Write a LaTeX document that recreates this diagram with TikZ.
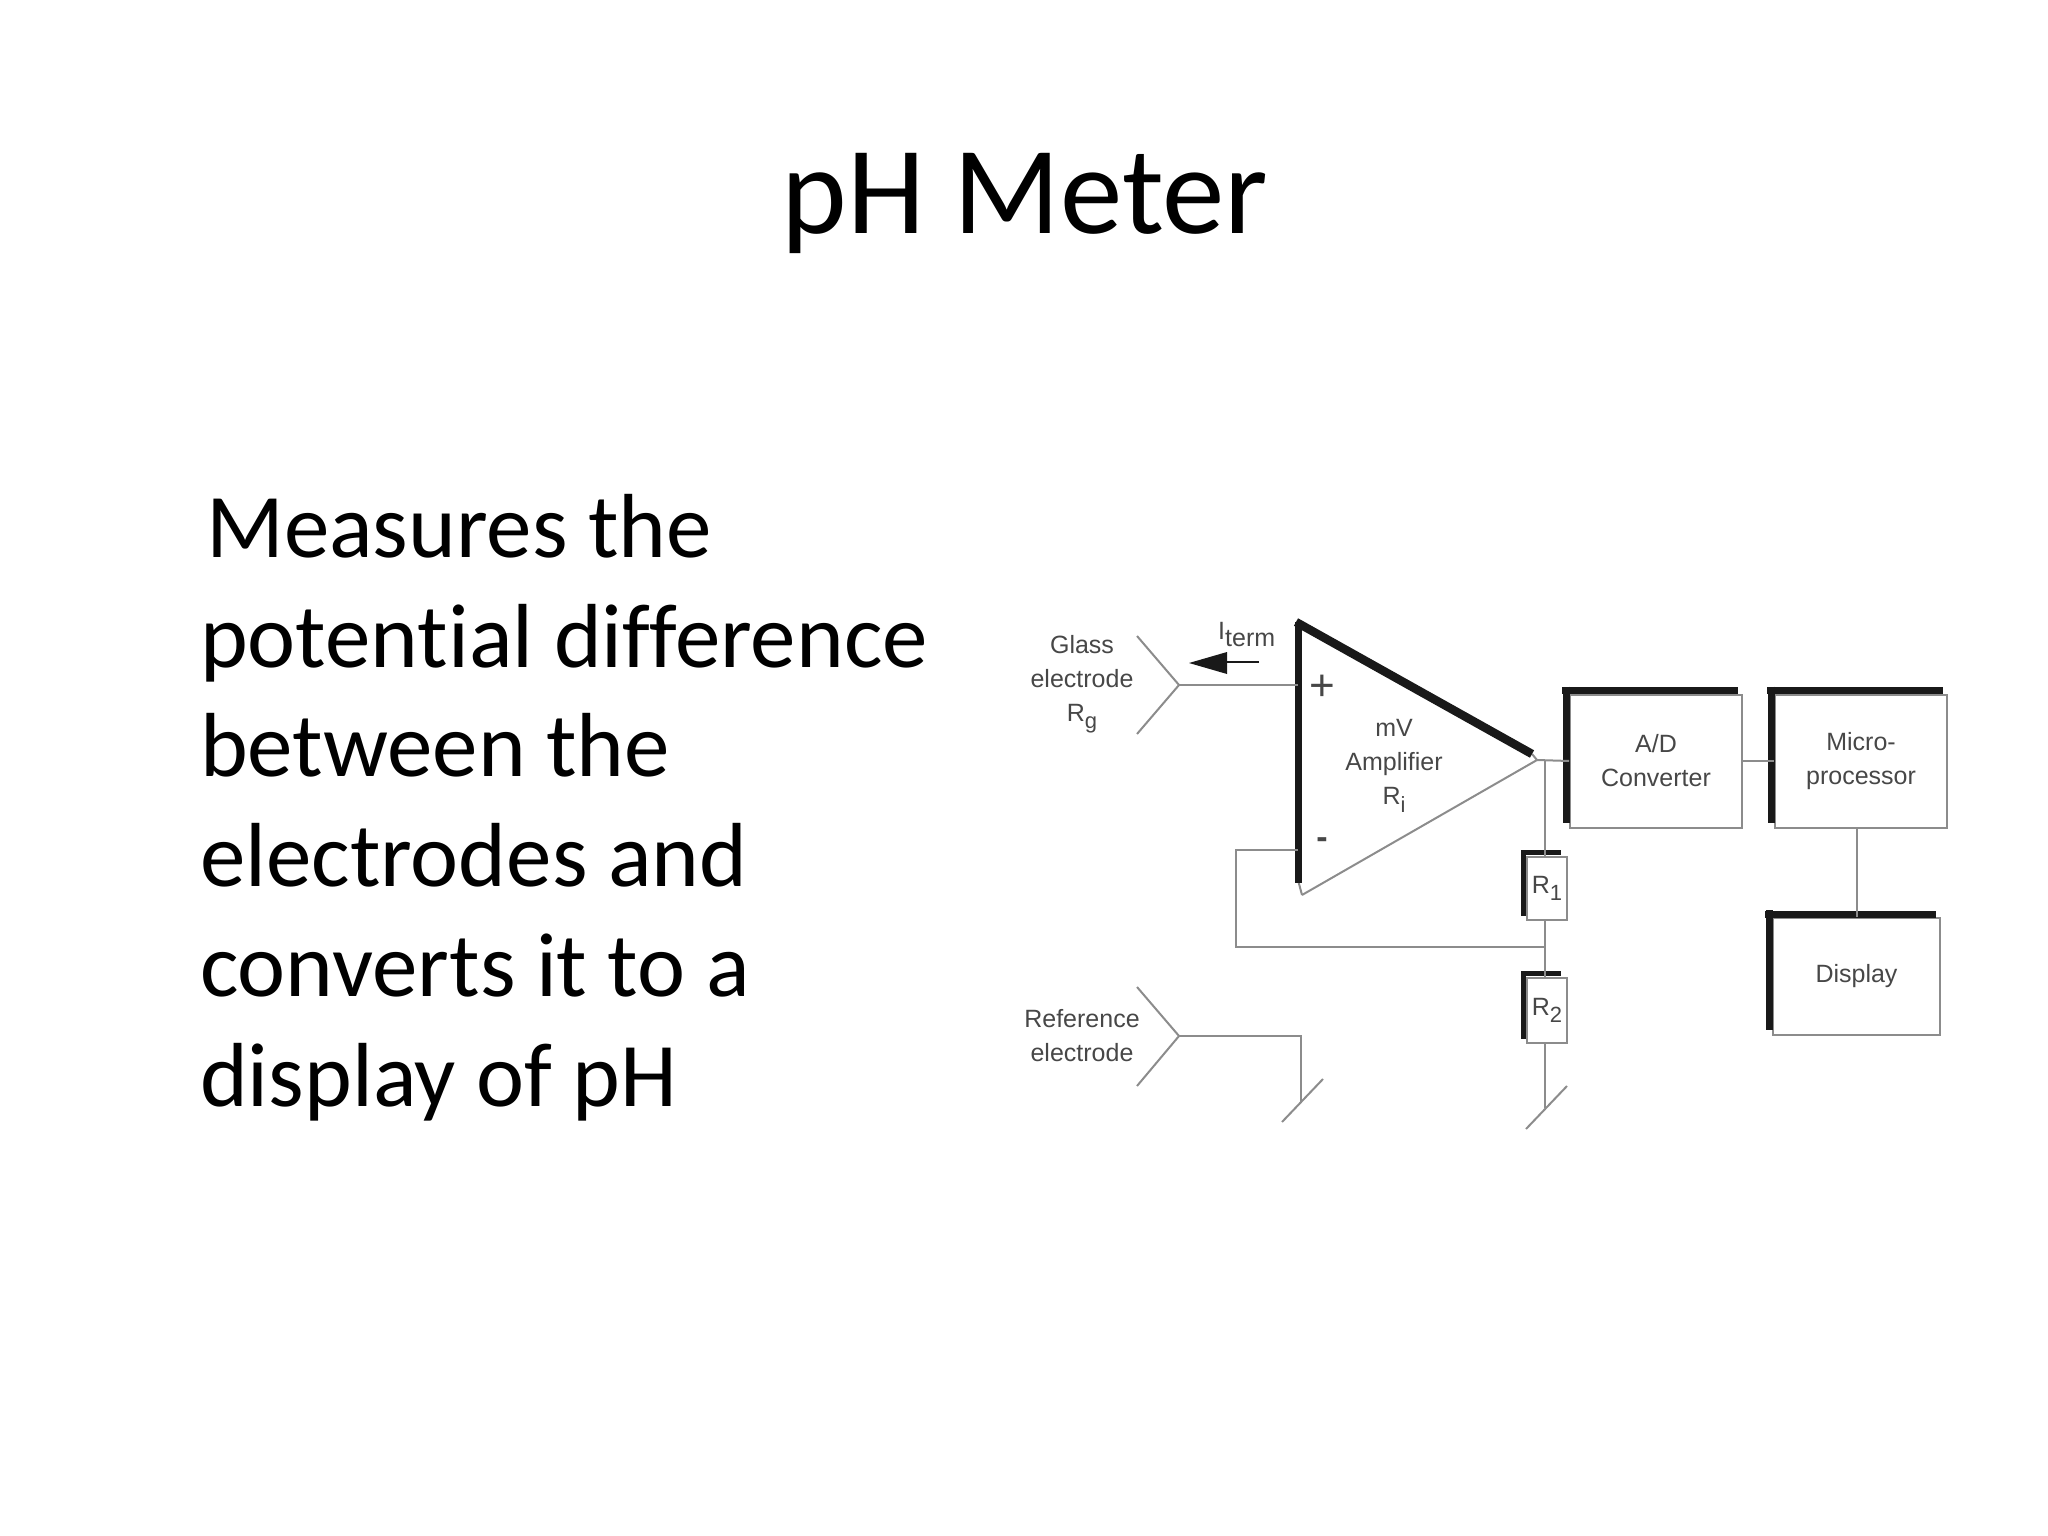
\documentclass[tikz,border=0pt]{standalone}
\usepackage{fontspec}
\setmainfont[Ligatures=NoCommon]{Carlito}
\newfontfamily\diagfont{Liberation Sans}
\usetikzlibrary{calc}
\definecolor{wirecol}{gray}{0.55}
\definecolor{heavycol}{gray}{0.1}
\definecolor{labelcol}{gray}{0.28}
\newcommand{\lowsub}[1]{\raisebox{-0.3em}{\fontsize{22}{22}\selectfont #1}}
\tikzset{
  wire/.style={draw=wirecol,line width=2pt},
  heavy/.style={draw=heavycol,line width=7pt},
  heavysmall/.style={draw=heavycol,line width=5pt},
  lbl/.style={text=labelcol,font=\diagfont\fontsize{25}{34}\selectfont,align=center,inner sep=0pt},
  blockbox/.style={wire,lbl,minimum width=#1,anchor=center},
  resbox/.style={wire,lbl,minimum width=40pt,anchor=center},
}
\begin{document}
\begin{tikzpicture}[x=1pt,y=-1pt]
\useasboundingbox (0,0) rectangle (2048,1536);
% title and body
\node[font=\fontsize{125}{125}\selectfont,anchor=base,inner sep=0pt,text=black] (title) at (1025,233) {pH Meter};
\node[font=\fontsize{91}{109.8}\selectfont,anchor=north west,align=left,inner sep=0pt,text=black] (body) at (200,494)
 {\hspace{6pt}Measures the\\potential difference\\between the\\electrodes and\\converts it to a\\display of pH};
% amplifier
\coordinate (tl) at (1298,622);
\coordinate (tip) at (1537,760);
\coordinate (bl) at (1302,895);
\coordinate (plusin) at (1298,685);
\coordinate (minusin) at (1298,850);
\draw[wire] (bl) -- (tip) -- (1532,754);
\draw[wire] (1298,880) -- (bl);
\draw[heavycol,line width=7pt] (tl) -- (1298,883);
\draw[heavycol,line width=8.5pt] (1296,622) -- (1532,754);
\node[font=\diagfont\fontsize{44}{44}\selectfont,text=labelcol,inner sep=0pt] (plus) at (1322,688) {+};
\node[font=\diagfont\bfseries\fontsize{34}{34}\selectfont,text=labelcol,inner sep=0pt] (minus) at (1322,843) {-};
\node[lbl] (amp) at (1394,766) {mV\\Amplifier\\R\lowsub{i}};
% electrodes
\coordinate (ga) at (1137,636);
\coordinate (gv) at (1179,685);
\coordinate (gb) at (1137,734);
\draw[wire] (ga) -- (gv) -- (gb);
\draw[wire] (gv) -- (plusin);
\node[lbl] (glass) at (1082,684) {Glass\\electrode\\R\lowsub{g}};
\coordinate (ra) at (1137,987);
\coordinate (rv) at (1179,1036);
\coordinate (rb) at (1137,1086);
\draw[wire] (ra) -- (rv) -- (rb);
\node[lbl] (ref) at (1082,1036) {Reference\\electrode};
\coordinate (g1) at (1301,1102);
\coordinate (g1a) at (1323,1079);
\coordinate (g1b) at (1282,1122);
\draw[wire] (rv) -| (g1);
\draw[wire] (g1a) -- (g1b);
% current arrow
\coordinate (iend) at (1259,662);
\coordinate (ibase) at (1225,662);
\coordinate (itip) at (1189,663);
\draw[draw=heavycol,line width=1.5pt] (iend) -- (ibase);
\fill[heavycol] (itip) -- (1227,652) -- (1227,674) -- cycle;
\node[text=labelcol,font=\diagfont\fontsize{25}{25}\selectfont,inner sep=0pt,anchor=base west] (iterm) at (1218,639) {I\raisebox{-0.3em}{term}};
% blocks
\node[blockbox=172pt,minimum height=133pt] (ad) at (1656,761) {A/D\\Converter};
\node[blockbox=172pt,minimum height=133pt] (mp) at (1861,761) {Micro-\\processor};
\node[blockbox=167pt,minimum height=117pt] (disp) at (1856.5,976.5) {\raisebox{-2pt}{Display}};
\node[resbox,minimum height=63pt] (r1) at (1547,888.5) {\raisebox{-3pt}{R\lowsub{1}}};
\node[resbox,minimum height=65pt] (r2) at (1547,1010.5) {R\lowsub{2}};
\foreach \n in {ad,mp,disp}{
  \draw[heavy] ($(\n.north west)+(-7,-3)$) -- ($(\n.north east)+(-5,-3)$);
  \draw[heavy] ($(\n.north west)+(-3,-7)$) -- ($(\n.south west)+(-3,-6)$);
}
\foreach \n in {r1,r2}{
  \draw[heavysmall] ($(\n.north west)+(-4,-4)$) -- ($(\n.north east)+(-7,-4)$);
  \draw[heavysmall] ($(\n.north west)+(-3,-6)$) -- ($(\n.south west)+(-3,-5)$);
}
% wiring
\coordinate (j1) at (1545,760);
\coordinate (j2) at (1545,947);
\coordinate (g2) at (1545,1108);
\coordinate (g2a) at (1567,1086);
\coordinate (g2b) at (1526,1129);
\draw[wire] (tip) -- (ad.west);
\draw[wire] (ad.east) -- (mp.west);
\draw[wire] (mp.south -| disp.north) -- (disp.north);
\draw[wire] (j1) -- (j1 |- r1.north);
\draw[wire] (j2 |- r1.south) -- (j2 |- r2.north);
\draw[wire] (g2 |- r2.south) -- (g2);
\draw[wire] (g2a) -- (g2b);
\draw[wire] (minusin) -| (1236,947) -- (j2);
\end{tikzpicture}
\end{document}
